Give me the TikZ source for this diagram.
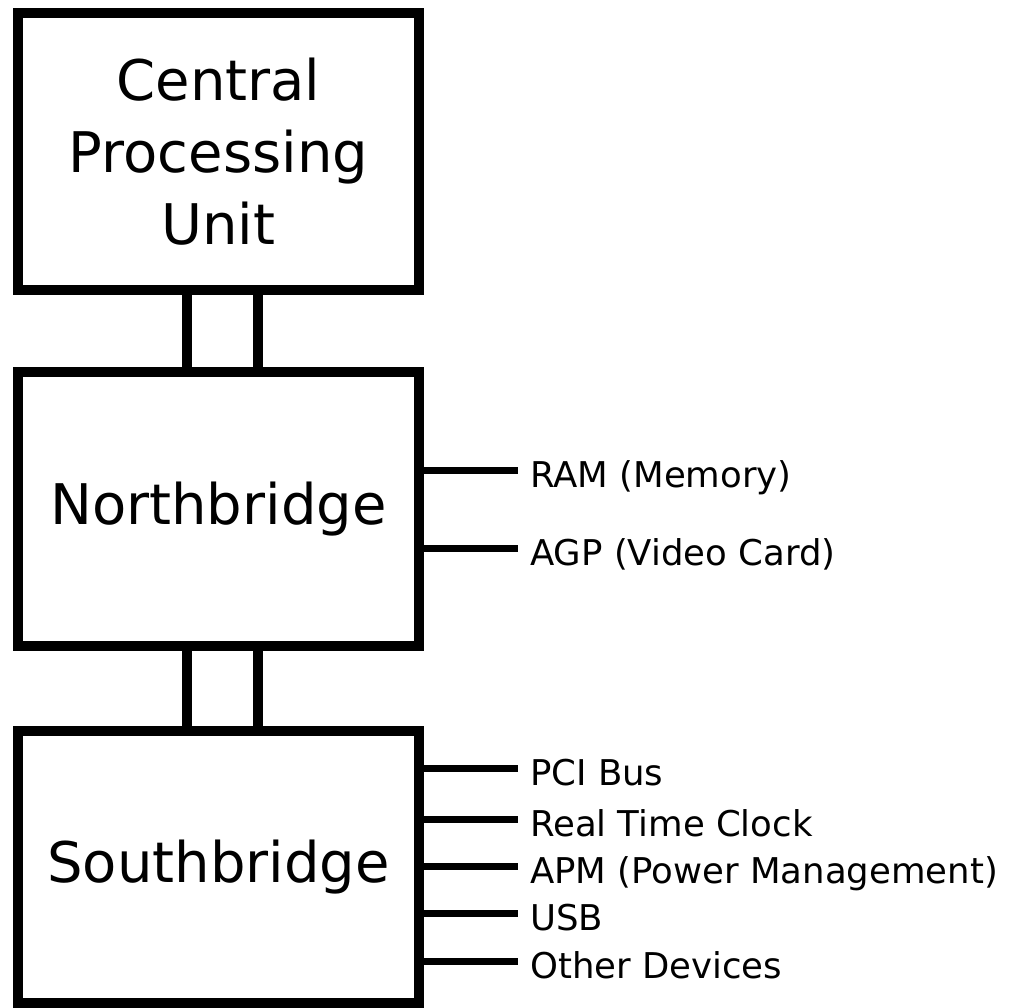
\documentclass[tikz,border=0pt]{standalone}
\usepackage{fontspec}
\setmainfont{DejaVu Sans}
\usepackage{tikz}

\begin{document}
\begin{tikzpicture}[x=1pt,y=-1pt,
	chip_node/.style={rectangle,draw,line width=10pt,minimum width=401pt,inner sep=0pt,align=center,font=\fontsize{56}{72}\selectfont},
	port_node/.style={anchor=west,inner xsep=12pt,inner ysep=0pt,text height=34pt,text depth=0pt,font=\fontsize{35.5}{40}\selectfont},
	bus_line/.style={line width=10pt},
	port_line/.style={line width=7pt}]

		\useasboundingbox (0,0) rectangle (1010,1008);

		\node[chip_node,minimum height=277pt] (cpu) at (218.5,151.5) {Central\\Processing\\Unit};
		\node[chip_node,minimum height=274pt] (nb) at (218.5,509) {Northbridge};
		\node[chip_node,minimum height=272pt] (sb) at (218.5,867) {Southbridge};

		\node[port_node] (ram) at (518,470) {RAM (Memory)};
		\node[port_node] (agp) at (518,548) {AGP (Video Card)};
		\node[port_node] (pci) at (518,768) {PCI Bus};
		\node[port_node] (rtc) at (518,819) {Real Time Clock};
		\node[port_node] (apm) at (518,866) {APM (Power Management)};
		\node[port_node] (usb) at (518,913) {USB};
		\node[port_node] (other) at (518,961) {Other Devices};

		\draw[bus_line] ([xshift=-31.5pt]cpu.south) -- ([xshift=-31.5pt]nb.north);
		\draw[bus_line] ([xshift=39.5pt]cpu.south) -- ([xshift=39.5pt]nb.north);
		\draw[bus_line] ([xshift=-31.5pt]nb.south) -- ([xshift=-31.5pt]sb.north);
		\draw[bus_line] ([xshift=39.5pt]nb.south) -- ([xshift=39.5pt]sb.north);

		\draw[port_line] (nb.east |- ram.west) -- (ram.west);
		\draw[port_line] (nb.east |- agp.west) -- (agp.west);
		\draw[port_line] (sb.east |- pci.west) -- (pci.west);
		\draw[port_line] (sb.east |- rtc.west) -- (rtc.west);
		\draw[port_line] (sb.east |- apm.west) -- (apm.west);
		\draw[port_line] (sb.east |- usb.west) -- (usb.west);
		\draw[port_line] (sb.east |- other.west) -- (other.west);
		\end{tikzpicture}
\end{document}
